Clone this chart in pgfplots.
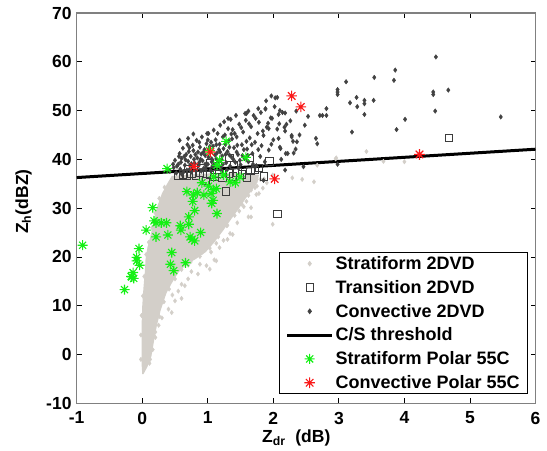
\documentclass[border=0pt]{standalone}
\usepackage{fontspec}
\setmainfont{Liberation Sans}
\usepackage{pgfplots}
\pgfplotsset{compat=1.18}
\definecolor{strat}{RGB}{211,207,201}
\definecolor{conv}{RGB}{66,66,66}
\definecolor{trans}{RGB}{60,60,60}
\definecolor{sgreen}{RGB}{20,240,20}
\definecolor{cred}{RGB}{250,25,25}
\pgfdeclareplotmark{mstar}{%
 \pgfpathmoveto{\pgfqpoint{-\pgfplotmarksize}{0pt}}\pgfpathlineto{\pgfqpoint{\pgfplotmarksize}{0pt}}%
 \pgfpathmoveto{\pgfqpoint{0pt}{-\pgfplotmarksize}}\pgfpathlineto{\pgfqpoint{0pt}{\pgfplotmarksize}}%
 \pgfpathmoveto{\pgfqpoint{-0.707\pgfplotmarksize}{-0.707\pgfplotmarksize}}\pgfpathlineto{\pgfqpoint{0.707\pgfplotmarksize}{0.707\pgfplotmarksize}}%
 \pgfpathmoveto{\pgfqpoint{-0.707\pgfplotmarksize}{0.707\pgfplotmarksize}}\pgfpathlineto{\pgfqpoint{0.707\pgfplotmarksize}{-0.707\pgfplotmarksize}}%
 \pgfusepathqstroke}
\pgfplotsset{myleg/.style={legend image code/.code={\path (0bp,0bp) (45bp,0bp);\draw[mark repeat=2,mark phase=2,##1] plot coordinates {(0bp,0bp)(22.5bp,0bp)(45bp,0bp)};}}}
\newcommand{\legfont}{\fontsize{18bp}{21bp}\selectfont\bfseries}
\begin{document}
\begin{tikzpicture}[font=\fontsize{17.5bp}{20bp}\selectfont\bfseries]
\begin{axis}[
 scale only axis, width=458.8bp, height=390.3bp,
 xmin=-1, xmax=6, ymin=-10, ymax=70,
 xtick={-1,0,1,2,3,4,5,6}, xticklabels={-1,0,1,2,3,4,5,6},
 ytick={-10,0,10,20,30,40,50,60,70}, yticklabels={-10,0,10,20,30,40,50,60,70},
 tick align=inside, major tick length=5bp,
 every tick/.style={black, line width=0.8bp},
 axis line style={draw=gray, line width=1.2bp},
 xticklabel style={inner sep=0pt, yshift=-8.4bp},
 yticklabel style={inner sep=0pt, xshift=-5bp},
 xlabel={Z\textsubscript{dr}\ \ (dB)},
 xlabel style={at={(axis description cs:0,0)}, anchor=north west, xshift=185.3bp, yshift=-26.7bp, inner sep=0pt},
 ylabel={Z\textsubscript{h}(dBZ)},
 ylabel style={at={(axis description cs:-0.116,0.5167)}, anchor=center, inner sep=0pt},
 legend cell align=left,
 legend style={at={(0.984,0.024)}, anchor=south east, draw=black, line width=0.8bp,
   font=\legfont, nodes={font=\legfont}, inner xsep=6bp, inner ysep=1.5bp, row sep=5.3bp},
 clip=true,
]
\coordinate (sw) at (rel axis cs:0,0);
% dense stratiform body
\addplot[forget plot, fill=strat, draw=none] coordinates {
(0.00,-4.0) (-0.01,-2.0) (-0.01,2.0) (-0.01,6.0) (0.00,10.0) (0.02,14.0) (0.04,17.0) (0.05,19.5)
(0.08,22.0) (0.12,24.0) (0.17,27.0) (0.22,30.0) (0.30,33.0) (0.38,35.0) (0.45,36.6) (0.80,37.0)
(1.20,37.2) (1.60,37.2) (1.78,36.8) (1.76,35.3) (1.68,33.8) (1.58,32.0) (1.48,30.0) (1.36,27.8)
(1.24,25.5) (1.10,23.0) (0.97,21.0) (0.82,19.6) (0.68,18.5) (0.55,16.8) (0.45,14.6) (0.37,12.6)
(0.28,9.0) (0.22,5.7) (0.17,2.0) (0.14,-0.4) (0.08,-2.5) (0.02,-4.0)} -- cycle;
% Stratiform 2DVD (scattered and edge points)
\addplot[only marks, mark=diamond*, mark size=2.2bp, color=strat, myleg] coordinates {
(1.75,34.5) (1.84,34.1) (1.78,33.0) (1.66,33.7) (1.90,35.2) (1.86,36.0)
(1.48,29.4) (1.55,30.3) (1.59,31.4) (1.66,30.1) (1.74,32.8) (1.45,32.3) (1.38,30.8) (1.62,28.2)
(1.38,24.6) (1.34,24.8) (1.30,26.5) (1.24,27.8) (1.45,27.0) (1.99,26.7) (1.66,28.2) (1.20,28.6)
(1.24,23.4) (1.18,21.9) (1.13,22.8) (1.05,21.0) (1.10,24.0) (0.98,22.5) (1.30,23.6)
(1.13,19.2) (1.03,17.5) (0.98,18.2) (0.88,18.5) (0.85,16.5) (0.75,17.0) (1.10,19.4) (0.70,15.5)
(0.65,14.1) (0.60,14.4) (0.55,13.0) (0.60,11.5) (0.45,8.6) (0.40,9.3) (0.50,11.0)
(0.20,3.5) (0.25,6.0) (0.30,7.5) (0.12,-1.0) (0.46,12.2) (0.70,18.3) (0.92,21.0)
(1.80,35.9) (1.72,34.2) (1.62,32.6) (1.52,30.8) (1.41,28.5) (1.29,26.4) (1.16,24.1) (1.03,21.8)
(0.88,20.1) (0.74,19.0) (0.60,17.4) (0.50,15.5) (0.41,13.4) (0.33,10.8) (0.26,7.8) (0.20,4.6)
(0.16,1.0) (0.11,-1.8) (-0.02,-1.0) (-0.02,4.0) (-0.01,8.0) (0.01,12.0) (0.03,16.0) (0.06,20.5)
(0.10,23.0) (0.15,26.0) (0.20,29.0) (0.26,32.0) (0.34,34.3)
(2.44,35.9) (2.62,35.4) (2.29,36.2) (2.96,40.3) (3.42,41.6) (3.68,39.6) (4.00,39.5) (2.67,38.8) (2.95,40.1) (1.99,36.8)
};
\addlegendentry{Stratiform 2DVD}
% Transition 2DVD
\addplot[only marks, mark=square, mark size=3.7bp, color=trans, line width=0.8bp, myleg] coordinates {
(0.55,36.6) (0.62,36.9) (0.68,36.6) (0.75,37.0) (0.82,36.7) (0.88,37.2) (0.97,35.6) (1.03,36.8)
(1.10,36.4) (1.17,37.0) (1.22,36.3) (1.28,33.4) (1.32,37.1) (1.38,36.5) (1.45,37.3) (1.52,36.9)
(1.60,36.3) (1.65,37.6) (1.72,37.9) (1.78,38.3) (1.86,36.5) (1.94,39.6) (2.06,28.8) (4.68,44.4)
(1.03,39.2) (1.33,40.3) (1.64,40.3) (0.70,38.0) (0.90,38.3) (1.15,38.6) (1.40,38.9)
};
\addlegendentry{Transition 2DVD}
% Convective 2DVD
\addplot[only marks, mark=diamond*, mark size=2.3bp, color=conv, myleg] coordinates {
(0.42,37.6) (0.48,38.3) (0.52,37.2) (0.55,39.0) (0.58,38.0) (0.60,40.2) (0.63,37.4) (0.65,38.8)
(0.67,41.0) (0.70,39.6) (0.72,37.9) (0.74,40.6) (0.76,38.5) (0.78,41.8) (0.80,39.2) (0.82,37.6)
(0.84,40.3) (0.86,38.7) (0.88,42.5) (0.90,41.1) (0.92,39.7) (0.94,38.2) (0.96,40.8) (0.98,43.2)
(1.00,39.0) (1.02,41.9) (1.04,37.8) (1.06,40.1) (1.08,42.7) (1.10,38.9) (1.12,44.0) (1.14,41.3)
(1.16,39.6) (1.18,43.1) (1.20,38.4) (1.22,40.7) (1.24,42.2) (1.26,45.0) (1.28,39.3) (1.30,41.6)
(1.32,43.8) (1.34,38.6) (1.36,40.5) (1.38,46.1) (1.40,42.4) (1.42,39.4) (1.44,44.6) (1.46,41.0)
(1.48,47.2) (1.50,38.9) (1.52,43.0) (1.54,45.6) (1.56,40.2) (1.58,48.0) (1.60,42.1) (1.62,39.5)
(1.64,44.4) (1.66,46.7) (1.68,41.2) (1.70,49.0) (1.72,43.5) (1.74,38.7) (1.76,45.3) (1.78,47.6)
(1.80,40.6) (1.82,42.8) (1.85,44.9) (1.88,50.3) (1.90,46.6) (1.93,41.9) (1.96,48.5) (2.00,44.0)
(2.03,52.6) (2.06,46.2) (2.10,42.5) (2.14,49.6) (2.18,45.8) (2.22,41.2) (2.26,47.9) (2.30,43.7)
(2.35,49.9) (2.40,45.0)
(0.50,39.8) (0.57,41.2) (0.62,42.3) (0.66,39.9) (0.69,43.0) (0.73,38.8) (0.77,42.9) (0.79,40.0)
(0.83,43.9) (0.85,41.5) (0.89,40.0) (0.91,44.6) (0.95,42.0) (0.97,37.9) (0.99,45.3) (1.01,40.4)
(1.05,43.5) (1.07,38.6) (1.09,46.0) (1.11,40.9) (1.15,45.3) (1.17,42.0) (1.19,47.0) (1.21,40.0)
(1.25,47.7) (1.27,43.1) (1.29,37.8) (1.31,46.3) (1.33,40.9) (1.35,48.2) (1.37,44.2) (1.41,45.3)
(1.43,49.0) (1.45,42.9) (1.47,38.2) (1.51,46.5) (1.53,40.8) (1.57,49.4) (1.59,43.7) (1.63,47.3)
(1.67,43.0) (1.69,39.0) (1.73,48.4) (1.77,42.0) (1.81,49.6) (1.84,45.8) (1.87,39.5) (1.92,47.4)
(1.97,43.1) (2.02,50.8) (2.08,44.3) (2.12,40.0) (2.20,47.2) (2.28,44.6) (2.34,42.1)
(0.53,38.6) (0.59,39.4) (0.64,40.6) (0.68,37.8) (0.71,41.6) (0.75,39.1) (0.81,41.0) (0.87,39.4)
(0.93,41.4) (0.96,39.0) (1.03,42.6) (1.06,39.5) (1.13,40.1) (1.19,41.5) (1.23,39.0) (1.27,41.0)
(1.33,42.5) (1.39,40.0) (1.44,41.5) (1.49,39.8) (1.55,42.0) (1.61,40.8) (0.47,39.0) (0.56,40.6)
(0.72,42.4) (0.87,43.5) (1.00,44.0) (1.13,43.0) (1.23,44.6) (1.36,45.2)
(4.48,61.0) (3.86,58.3) (4.67,54.2) (3.54,56.8) (3.11,55.9) (2.98,54.3) (2.98,53.8) (2.98,53.3)
(3.84,56.2) (4.44,53.8) (4.44,53.3) (3.27,52.7) (3.17,51.6) (3.39,52.1) (3.39,51.4) (3.53,52.1)
(3.28,50.8) (3.39,49.2) (4.47,49.9) (5.47,48.7) (2.81,50.4) (2.71,49.0) (2.75,49.0) (2.81,49.0)
(2.53,48.8) (2.48,47.0) (4.01,48.2) (3.20,45.6) (3.88,46.1) (2.65,44.3) (2.67,43.2) (2.06,52.7)
(1.97,53.0) (1.89,52.0) (2.18,49.5) (2.10,50.0) (2.08,49.2) (1.88,50.4) (1.77,50.4) (1.62,49.9)
(1.59,49.4) (1.98,48.4) (2.09,47.3) (1.93,46.3) (2.17,46.6) (2.28,44.9) (2.36,43.6) (2.31,41.3)
(2.11,42.2) (2.19,41.2) (2.18,37.8) (2.46,38.5) (2.98,39.0) (1.85,35.7) (1.01,45.3) (1.31,48.4)
(0.57,43.9) (0.70,44.3) (0.78,45.2) (0.60,37.0) (0.75,37.4) (0.90,37.6) (1.05,37.6) (1.20,37.9)
};
\addlegendentry{Convective 2DVD}
% C/S threshold
\addplot[black, line width=3bp, mark=none, myleg] coordinates {(-1,36.27) (6,42.08)};
\addlegendentry{C/S threshold}
% Stratiform Polar 55C
\addplot[only marks, mark=mstar, mark size=5bp, color=sgreen, line width=1.1bp, myleg] coordinates {
(-0.91,22.4) (-0.27,13.3) (-0.16,15.9) (-0.14,16.8) (-0.17,16.0) (-0.13,15.6) (-0.085,19.9) (-0.085,19.2)
(-0.05,21.7) (-0.04,18.3) (0.06,25.5) (0.16,30.1) (0.18,27.4) (0.21,24.1) (0.21,27.0) (0.29,27.0)
(0.37,27.0) (0.39,24.5) (0.38,38.1) (0.45,20.9) (0.43,18.5) (0.48,17.2) (0.58,26.4) (0.59,25.5)
(0.66,18.8) (0.68,33.4) (0.71,28.2) (0.71,26.7) (0.73,24.1) (0.76,23.6) (0.80,23.3) (0.77,31.4)
(0.78,32.7) (0.80,29.5) (0.84,33.2) (0.89,25.0) (0.91,35.2) (0.94,32.7) (1.01,34.5) (1.05,33.0)
(1.08,31.6) (1.06,31.0) (1.09,33.8) (1.13,34.0) (1.14,28.9) (1.14,38.8) (1.18,39.8) (1.24,36.8)
(1.28,43.7) (1.34,35.4) (1.42,35.2) (1.49,36.4) (1.58,40.4) (1.09,36.4) (1.03,41.8)
};
\addlegendentry{Stratiform Polar 55C}
% Convective Polar 55C
\addplot[only marks, mark=mstar, mark size=5.3bp, color=cred, line width=1.1bp, myleg] coordinates {
(0.79,38.5) (1.04,41.5) (2.28,53.0) (2.42,50.75) (2.02,36.0) (4.23,41.0)
};
\addlegendentry{Convective Polar 55C}
\end{axis}
\pgfresetboundingbox
\path (sw) ++(-76.7bp,-47.7bp) rectangle ++(547bp,451bp);
\end{tikzpicture}
\end{document}
